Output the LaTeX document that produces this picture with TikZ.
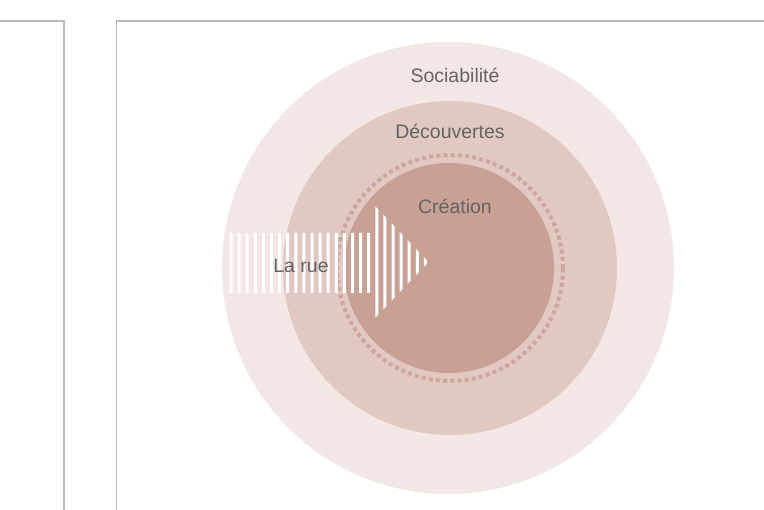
\documentclass[tikz,border=0pt]{standalone}
\usepackage{fontspec}
\setmainfont{Liberation Sans}
\definecolor{ringA}{RGB}{242,231,229}
\definecolor{ringB}{RGB}{225,200,194}
\definecolor{ringC}{RGB}{200,160,148}
\definecolor{dashc}{RGB}{206,166,155}
\definecolor{framec}{RGB}{187,187,187}
\definecolor{txt}{RGB}{100,100,100}
\tikzset{
  disc/.style={circle, inner sep=0pt, draw=none},
  lbl/.style={text=txt, font=\fontsize{19.5}{22}\selectfont, inner sep=0pt},
  frameline/.style={draw=framec, line width=1.5pt},
}
\begin{document}
\begin{tikzpicture}[x=1pt,y=-1pt]
\useasboundingbox (0,0) rectangle (764,510);
% frames
\coordinate (f1a) at (0,21);
\coordinate (f1b) at (64,21);
\coordinate (f1c) at (64,510);
\coordinate (f2a) at (116.5,510);
\coordinate (f2b) at (116.5,21);
\coordinate (f2c) at (764,21);
\draw[frameline] (f1a) -- (f1b) -- (f1c);
\draw[frameline] (f2a) -- (f2b) -- (f2c);
% discs
\node[disc, fill=ringA, minimum size=452pt] (soc) at (448,268) {};
\node[disc, fill=ringB, minimum size=334pt] (dec) at (450,268) {};
\node[disc, fill=ringC, minimum size=210pt] (cre) at (449,268) {};
\node[disc, draw=dashc, line width=4pt, dash pattern=on 4pt off 3.2pt, minimum size=226pt] (ring) at (450,268) {};
% striped arrow
\begin{scope}
  \clip foreach \k in {0,...,24} { (229.5+8.1*\k,150) rectangle ++(3,200) };
  \fill[white] (229,233) -- (375,233) -- (375,206) -- (428.5,262) -- (375,318) -- (375,293) -- (229,293) -- cycle;
\end{scope}
% labels
\node[lbl] (lsoc) at (455,75) {Sociabilité};
\node[lbl] (ldec) at (450,131) {Découvertes};
\node[lbl] (lcre) at (455,206) {Création};
\node[lbl] (lrue) at (301,266) {La rue};
\end{tikzpicture}
\end{document}
